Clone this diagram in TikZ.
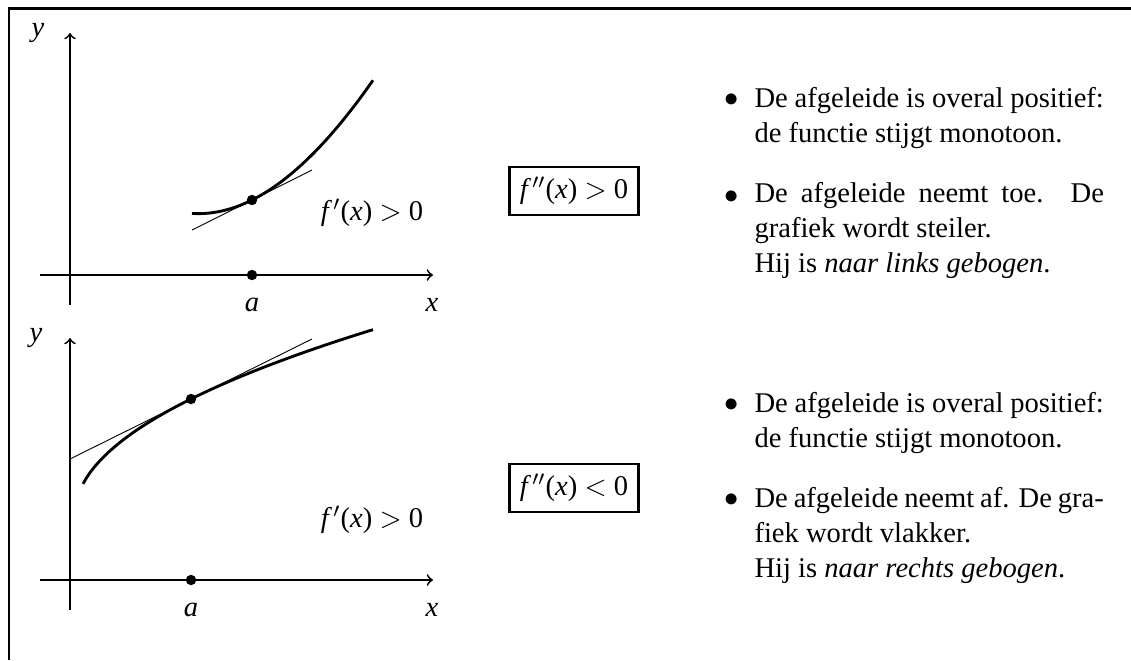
\documentclass[tikz,border=0pt]{standalone}
\usepackage{amsmath}
\usepackage{fontspec}
\setmainfont{Liberation Serif}
\usepackage{tikz}
\usetikzlibrary{arrows.meta}

\begin{document}
\begin{tikzpicture}[x=0.385pt, y=-0.385pt, >=to,
  font=\fontsize{11}{13.6}\selectfont,
  as/.style={->, line width=0.7pt},
  grafiek/.style={line width=1.1pt},
  raaklijn/.style={line width=0.35pt},
  stip/.style={circle, fill, inner sep=0pt, minimum size=4pt},
  kader/.style={draw, line width=0.8pt, inner sep=4pt},
  tekst/.style={anchor=base west, text width=134.5pt, align=justify, inner sep=0pt}]
  \useasboundingbox (0,0) rectangle (1131,660);
  \draw[line width=0.8pt] (1131,8.5) -- (9,8.5) -- (9,660);

  % bovenste grafiek: f''(x) > 0
  \draw[as] (70,305) -- (70,33);
  \draw[as] (40,275) -- (433,275);
  \node (y1) at (38,33) {\textit{y}};
  \node (x1) at (432,305) {\textit{x}};
  \node (a1) at (252,305) {\textit{a}};
  \node[stip] (A1) at (252,275) {};
  \node[stip] (P1) at (252,200) {};
  \draw[grafiek] plot[domain=-0.6:1.21, samples=60]
    ({252+100*\x}, {200-50*\x-44.25*\x*\x+3.1*\x*\x*\x});
  \draw[raaklijn] (192,230) -- (312,170);
  \node (f1) at (372,213) {\textit{f}\kern0.5pt$'$(\textit{x}) $>$ 0};
  \node[kader] (k1) at (574,191) {\textit{f}\kern0.5pt$''$(\textit{x}) $>$ 0};
  \node (b1) at (732,100) {$\bullet$};
  \node[tekst] (t1) at (754,107) {De afgeleide is overal positief:\\ de functie stijgt monotoon.};
  \node (b2) at (732,197) {$\bullet$};
  \node[tekst] (t2) at (754,202) {De afgeleide neemt toe. De\linebreak grafiek wordt steiler.\\ Hij is \textit{naar links gebogen}.};

  % onderste grafiek: f''(x) < 0
  \draw[as] (70,610) -- (70,338);
  \draw[as] (40,580) -- (433,580);
  \node (y2) at (36,338) {\textit{y}};
  \node (x2) at (432,610) {\textit{x}};
  \node (a2) at (191,610) {\textit{a}};
  \node[stip] (A2) at (191,580) {};
  \node[stip] (P2) at (191,399) {};
  \draw[grafiek] plot[domain=83:373, samples=80] ({\x}, {514-10.68*sqrt(\x-75)});
  \draw[raaklijn] (70,459) -- (312,339);
  \node (f2) at (372,520) {\textit{f}\kern0.5pt$'$(\textit{x}) $>$ 0};
  \node[kader] (k2) at (574,488) {\textit{f}\kern0.5pt$''$(\textit{x}) $<$ 0};
  \node (b3) at (732,405) {$\bullet$};
  \node[tekst] (t3) at (754,412) {De afgeleide is overal positief:\\ de functie stijgt monotoon.};
  \node (b4) at (732,500) {$\bullet$};
  \node[tekst] (t4) at (754,507) {De afgeleide neemt af. De gra-\linebreak fiek wordt vlakker.\\ Hij is \textit{naar rechts gebogen}.};
\end{tikzpicture}
\end{document}
